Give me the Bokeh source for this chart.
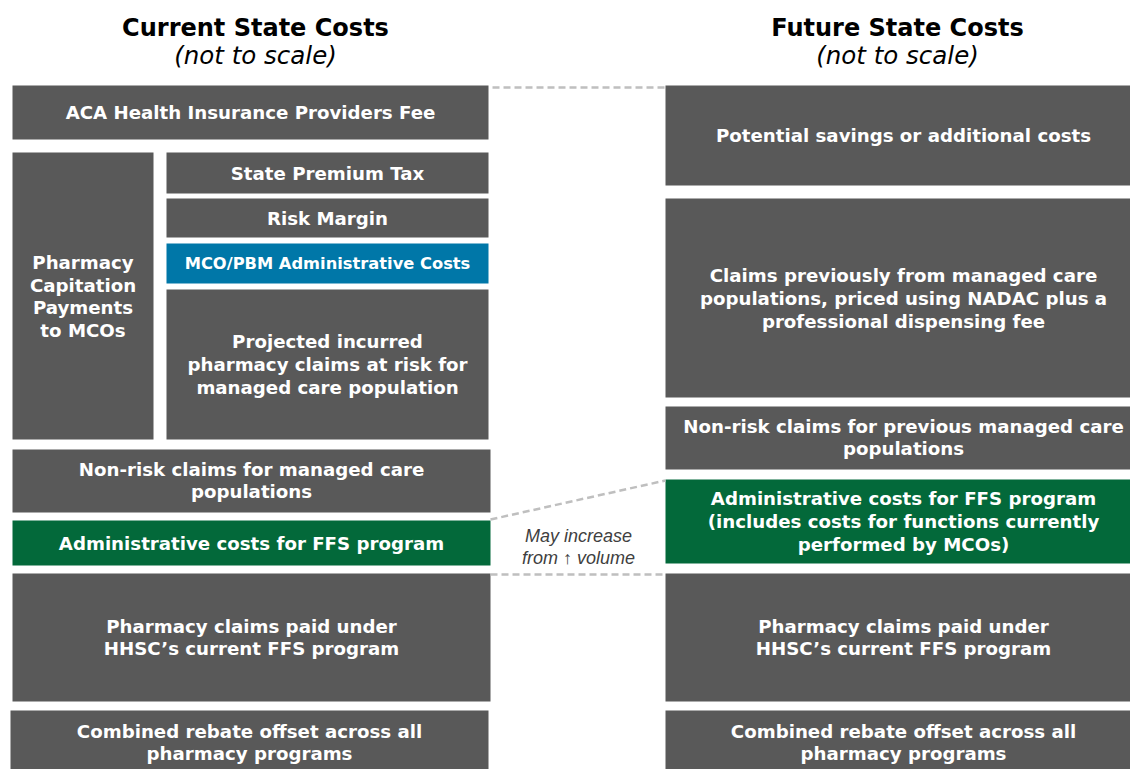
from bokeh.plotting import figure
from bokeh.models import Range1d, ColumnDataSource
from bokeh.core.properties import value
from bokeh.embed import file_html
from bokeh.resources import INLINE

GRAY = "#595959"
BLUE = "#0077A8"
GREEN = "#03693A"
DASH = "#BFBFBF"

# --- diagram content (layout in page pixels) ---
box_labels = [
    "ACA Health Insurance Providers Fee",
    "Pharmacy\nCapitation\nPayments\nto MCOs",
    "State Premium Tax",
    "Risk Margin",
    "MCO/PBM Administrative Costs",
    "Projected incurred\npharmacy claims at risk for\nmanaged care population",
    "Non-risk claims for managed care\npopulations",
    "Administrative costs for FFS program",
    "Pharmacy claims paid under\nHHSC\u2019s current FFS program",
    "Combined rebate offset across all\npharmacy programs",
    "Potential savings or additional costs",
    "Claims previously from managed care\npopulations, priced using NADAC plus a\nprofessional dispensing fee",
    "Non-risk claims for previous managed care\npopulations",
    "Administrative costs for FFS program\n(includes costs for functions currently\nperformed by MCOs)",
    "Pharmacy claims paid under\nHHSC\u2019s current FFS program",
    "Combined rebate offset across all\npharmacy programs",
]
box_left = [12, 12, 166, 166, 166, 166, 12, 12, 12, 10, 665, 665, 665, 665, 665, 665]
box_right = [488, 153, 488, 488, 488, 488, 490, 490, 490, 488, 1141, 1141, 1141, 1141, 1141, 1141]
box_top = [85, 152, 152, 198, 243, 289, 449, 520, 573, 710, 85, 198, 406, 479, 573, 710]
box_bottom = [139, 439, 193, 237, 283, 439, 512, 565, 701, 775, 185, 397, 469, 563, 701, 775]
box_colors = [GRAY, GRAY, GRAY, GRAY, BLUE, GRAY, GRAY, GREEN, GRAY, GRAY,
              GRAY, GRAY, GRAY, GREEN, GRAY, GRAY]
box_font = ["18.2px"] * 16
box_font[4] = "16.3px"
label_y = [112, 296, 173, 218, 263, 364, 480, 543, 637, 742, 135, 298, 437, 521, 637, 742]

titles = ["Current State Costs", "Future State Costs"]
subtitles = ["(not to scale)", "(not to scale)"]
title_x = [255, 897]

conn_x0 = [492, 490, 490]
conn_y0 = [87, 519, 574]
conn_x1 = [665, 665, 665]
conn_y1 = [87, 480, 574]

note = "May increase\nfrom \u2191 volume"

W, H = 1130, 769
p = figure(width=W, height=H, output_backend="svg", toolbar_location=None,
           x_range=Range1d(0, W), y_range=Range1d(H, 0), min_border=0)
p.axis.visible = False
p.grid.visible = False
p.outline_line_color = None
p.background_fill_color = "white"
p.border_fill_color = "white"

src = ColumnDataSource(dict(
    left=box_left, right=box_right, top=box_top, bottom=box_bottom,
    color=box_colors, label=box_labels, size=box_font,
    cx=[(a + b) / 2 for a, b in zip(box_left, box_right)],
    cy=label_y,
))
p.quad(left="left", right="right", top="top", bottom="bottom",
       fill_color="color", line_color=None, source=src)

p.text(x="cx", y="cy", text="label", source=src, text_color="white",
       text_font=value("DejaVu Sans"), text_font_style="bold",
       text_font_size="size", text_align="center", text_baseline="middle",
       text_line_height=1.08)

p.segment(x0=conn_x0, y0=conn_y0, x1=conn_x1, y1=conn_y1,
          line_color=DASH, line_width=2.5, line_dash="7 4")

p.text(x=title_x, y=[27] * 2, text=titles, text_color="black",
       text_font=value("DejaVu Sans"), text_font_style="bold",
       text_font_size="24px", text_align="center", text_baseline="middle")
p.text(x=title_x, y=[55] * 2, text=subtitles, text_color="black",
       text_font=value("DejaVu Sans"), text_font_style="italic",
       text_font_size="24.5px", text_align="center", text_baseline="middle")

p.text(x=[578], y=[546], text=[note], text_color="#404040",
       text_font=value("Liberation Sans"), text_font_style="italic",
       text_font_size="18px", text_align="center", text_baseline="middle",
       text_line_height=1.1)

open("out.html", "w").write(file_html(p, INLINE))
